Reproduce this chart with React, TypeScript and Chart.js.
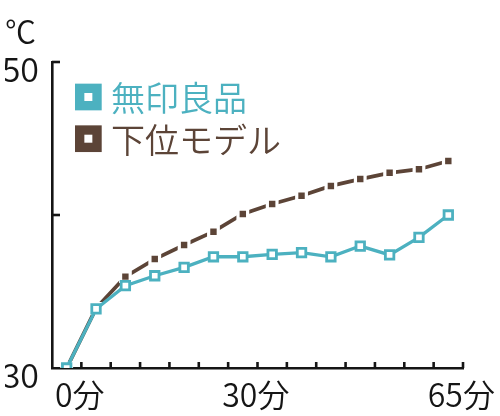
import React, { useEffect, useRef } from "react";
import { Chart, registerables } from "chart.js";

Chart.register(...registerables);

// ---- data ----
const minutes = [0, 5, 10, 15, 20, 25, 30, 35, 40, 45, 50, 55, 60, 65];
const shownMinutes = [0, 30, 65];
const mujiTemps = [30.0, 33.86, 35.38, 36.03, 36.58, 37.27, 37.27, 37.43, 37.54, 37.27, 37.97, 37.39, 38.54, 40.0];
const lowerModelTemps = [30.0, 33.9, 35.97, 37.12, 38.04, 38.91, 40.07, 40.72, 41.26, 41.9, 42.35, 42.76, 42.99, 43.53];
const seriesNames = ["無印良品", "下位モデル"];
const yMin = 30;
const yMax = 50;
const yStep = 10;
const yLabelValues = [30, 50];
const unitLabel = "℃";

const TEAL = "#4cb1c0";
const BROWN = "#5c4437";
const AXIS = "#151515";
const FONT = '"Noto Sans CJK JP", "Noto Sans", sans-serif';

const innerTicks = {
  id: "innerTicks",
  afterDraw(chart: any) {
    const { ctx, chartArea, scales } = chart;
    const x = scales.x;
    const y = scales.y;
    ctx.save();
    ctx.strokeStyle = AXIS;
    ctx.lineWidth = 2.6;
    // y ticks pointing inward
    for (let v = yMin + yStep; v <= yMax; v += yStep) {
      const py = y.getPixelForValue(v);
      ctx.beginPath();
      ctx.moveTo(chartArea.left, py);
      ctx.lineTo(chartArea.left + 8, py);
      ctx.stroke();
    }
    // x ticks at category boundaries, pointing up
    const half = (x.getPixelForValue(1) - x.getPixelForValue(0)) / 2;
    for (let i = 0; i < minutes.length; i++) {
      const px = x.getPixelForValue(i) + half;
      ctx.beginPath();
      ctx.moveTo(px, chartArea.bottom);
      ctx.lineTo(px, chartArea.bottom - 6);
      ctx.stroke();
    }
    ctx.restore();
  },
};

const boxLegend = {
  id: "boxLegend",
  afterDraw(chart: any) {
    const { ctx, chartArea } = chart;
    ctx.save();
    chart.data.datasets.forEach((ds: any, i: number) => {
      const cy = chartArea.top + 35 + i * 41.7;
      const bx = 75;
      const size = 26.7;
      ctx.fillStyle = ds.legendColor;
      ctx.fillRect(bx, cy - size / 2, size, size);
      ctx.fillStyle = "#ffffff";
      ctx.fillRect(bx + size / 2 - 4, cy - 4, 8, 8);
      ctx.font = `350 34px ${FONT}`;
      ctx.textBaseline = "middle";
      ctx.textAlign = "left";
      ctx.fillStyle = ds.legendColor;
      ctx.fillText(ds.label, 111, cy + 1);
    });
    ctx.restore();
  },
};

export default function App() {
  const ref = useRef<HTMLCanvasElement>(null);
  useEffect(() => {
    if (!ref.current) return;
    const chart = new Chart(ref.current, {
      type: "line",
      data: {
        labels: minutes.map((m) => `${m}分`),
        datasets: [
          {
            label: seriesNames[0],
            data: mujiTemps,
            borderColor: TEAL,
            borderWidth: 3.3,
            pointStyle: "rect",
            pointRadius: 6,
            pointBorderWidth: 2.8,
            pointBackgroundColor: "#ffffff",
            pointBorderColor: TEAL,
            tension: 0,
            legendColor: TEAL,
          } as any,
          {
            label: seriesNames[1],
            data: lowerModelTemps,
            borderColor: BROWN,
            borderWidth: 3.8,
            pointStyle: "rect",
            pointRadius: 6.8,
            pointBorderWidth: 3.2,
            pointBackgroundColor: BROWN,
            pointBorderColor: "#ffffff",
            tension: 0,
            legendColor: BROWN,
          } as any,
        ],
      },
      options: {
        animation: false,
        responsive: true,
        maintainAspectRatio: false,
        layout: { padding: { left: 5, right: 37, top: 0, bottom: 0 } },
        plugins: {
          legend: { display: false },
          tooltip: { enabled: false },
          title: {
            display: true,
            text: unitLabel,
            align: "start",
            color: AXIS,
            font: { family: FONT, size: 31, weight: "350" as any },
            padding: { top: 12.4, bottom: 12.4 },
          },
        },
        scales: {
          x: {
            type: "category",
            offset: true,
            grid: { display: false, offset: true, drawTicks: false },
            border: { display: true, color: AXIS, width: 2.6 },
            ticks: {
              autoSkip: false,
              maxRotation: 0,
              minRotation: 0,
              padding: 8,
              labelOffset: 13,
              color: AXIS,
              font: { family: FONT, size: 32, weight: "350" as any },
              callback: (_v: any, i: number) =>
                shownMinutes.includes(minutes[i]) ? `${minutes[i]}分` : "",
            },
            afterFit: (s: any) => {
              s.height = 48;
            },
          },
          y: {
            min: yMin,
            max: yMax,
            grid: { display: false, drawTicks: false },
            border: { display: true, color: AXIS, width: 2.6 },
            ticks: {
              stepSize: yStep,
              padding: 13,
              labelOffset: 7,
              color: AXIS,
              font: { family: FONT, size: 34, weight: "350" as any },
              callback: (v: any) => (yLabelValues.includes(Number(v)) ? String(v) : ""),
            },
            afterFit: (s: any) => {
              s.width = 47;
            },
          },
        },
      },
      plugins: [innerTicks, boxLegend],
    });
    return () => chart.destroy();
  }, []);
  return (
    <div style={{ position: "absolute", left: 0, top: 0, width: 500, height: 416, background: "#fff" }}>
      <canvas ref={ref} />
    </div>
  );
}
